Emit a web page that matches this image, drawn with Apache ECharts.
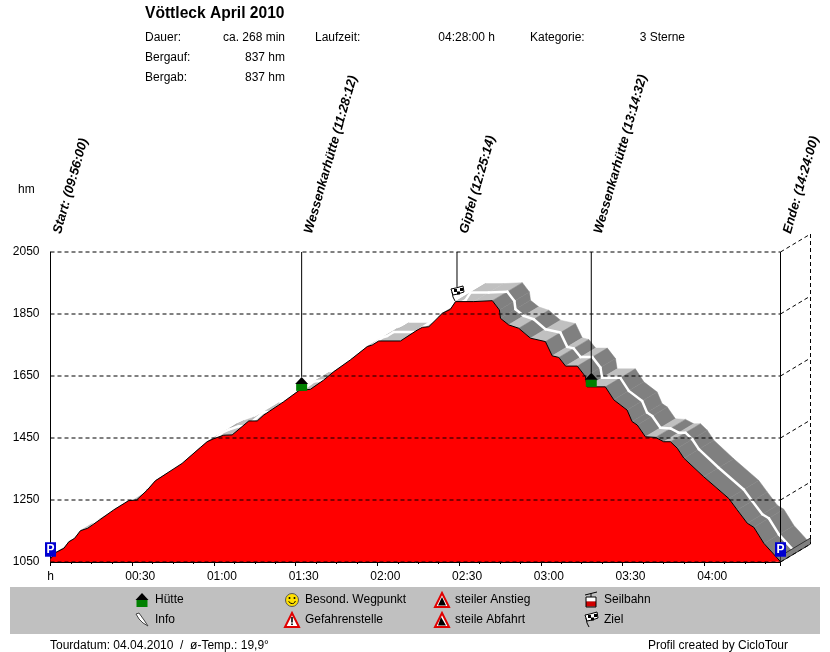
<!DOCTYPE html>
<html><head><meta charset="utf-8">
<style>html,body{margin:0;padding:0;background:#fff}#c{width:830px;height:652px}</style>
<script src="https://cdn.jsdelivr.net/npm/echarts@6/dist/echarts.min.js"></script>
</head><body><div id="c"></div>
<script>
// ---- data ----
const minutes=[0,1.8,4.9,6.7,8.8,11,13.7,23.2,28.7,31.6,35.5,38.5,48.3,55.1,57.5,60,63.6,66.7,72.8,75.9,78.3,85.6,91.2,95.4,100.3,104,110.1,116.3,118.1,120.5,128.5,134.6,136.5,138.9,143.8,146.8,148.7,155.4,162.2,164.8,165.2,168.2,171.9,176.2,181.7,184.2,186.6,189.1,193.4,196.4,197,203.7,206.8,211.7,213.5,215.4,218.4,222.1,225.1,227.6,230.1,232.5,239.8,249,252.1,255.8,258.2,261.9,268];
const heights=[1060,1080,1094,1115,1126,1151,1159,1218,1248,1250,1282,1312,1368,1420,1438,1448,1459,1460,1505,1505,1524,1567,1603,1607,1637,1664,1702,1745,1750,1763,1763,1798,1807,1809,1852,1865,1890,1890,1893,1863,1836,1815,1804,1772,1761,1715,1710,1682,1682,1648,1615,1615,1573,1540,1503,1492,1454,1452,1438,1438,1417,1385,1325,1255,1218,1175,1162,1110,1051];
const yTicks=[1050,1250,1450,1650,1850,2050];
const wayTimes=[0,92.2,149.23,198.53,268];
const wayHeights=[1067,1602,1892,1615,1067];
const wayLabels=['Start: (09:56:00)','Wessenkarhütte (11:28:12)','Gipfel (12:25:14)','Wessenkarhütte (13:14:32)','Ende: (14:24:00)'];
const wayIcons=['p','hut','flag','hut','p'];
const title='Vöttleck April 2010';
const infoLabels=['Dauer:','Bergauf:','Bergab:'];
const infoValues=['ca. 268 min','837 hm','837 hm'];
const legendLabels=[['Hütte','Info'],['Besond. Wegpunkt','Gefahrenstelle'],['steiler Anstieg','steile Abfahrt'],['Seilbahn','Ziel']];
const legendIcons=[['hut','info'],['smile','danger'],['up','down'],['car','flag']];

const FONT='12px "Liberation Sans",Arial,sans-serif';
const DX=30,DY=-18;

function icon(kind,x,y){ // x = centre, y = bottom of the icon
  const k=[];
  const line=(pts,w,c)=>k.push({type:'polyline',shape:{points:pts},style:{stroke:c||'#000',lineWidth:w||1,fill:'none'}});
  const poly=(pts,f,s,w)=>k.push({type:'polygon',shape:{points:pts},style:{fill:f,stroke:s||null,lineWidth:w||1}});
  const rect=(a,b,c,d,f)=>k.push({type:'rect',shape:{x:a,y:b,width:c,height:d},style:{fill:f}});
  if(kind==='p'){
    rect(-5.5,-14.5,11,14.5,'#0000d0');
    k.push({type:'text',style:{text:'P',x:0,y:-7,fill:'#fff',font:'bold 12px "Liberation Sans",Arial',textAlign:'center',textVerticalAlign:'middle'}});
  } else if(kind==='hut'){
    rect(-5.5,-7.5,11,7.5,'#008000');
    poly([[-6.5,-7],[0,-14],[6.5,-7]],'#000');
  } else if(kind==='flag'){
    line([[-2,0],[-4,-4],[-5,-9]],1);
    poly([[-6,-12],[-1,-13],[6,-15],[7,-9],[1,-7],[-4,-6]],'#fff','#000');
    rect(-3,-12,3,3,'#000');rect(3,-13,3,3,'#000');rect(0,-9.5,3,3,'#000');
  } else if(kind==='info'){
    poly([[-6,-13],[-3,-14],[2,-7],[6,-1],[1,-4],[-3,-8]],'#fff','#444');
  } else if(kind==='smile'){
    k.push({type:'circle',shape:{cx:0,cy:-7,r:6.5},style:{fill:'#ffe000',stroke:'#555',lineWidth:1}});
    k.push({type:'circle',shape:{cx:-2.5,cy:-9,r:1},style:{fill:'#000'}});
    k.push({type:'circle',shape:{cx:2.5,cy:-9,r:1},style:{fill:'#000'}});
    k.push({type:'arc',shape:{cx:0,cy:-7,r:3.5,startAngle:0.3,endAngle:2.8},style:{stroke:'#000',fill:'none',lineWidth:1}});
  } else if(kind==='danger'){
    poly([[0,-14],[7,0],[-7,0]],'#fff','#e00000',2);
    rect(-0.8,-10,1.6,5.5,'#000');rect(-0.8,-3.5,1.6,1.6,'#000');
  } else if(kind==='up'){
    poly([[0,-14],[7,0],[-7,0]],'#fff','#e00000',2);
    poly([[0,-10],[4,-1.5],[-4,-1.5]],'#000');
  } else if(kind==='down'){
    poly([[0,-14],[7,0],[-7,0]],'#fff','#e00000',2);
    poly([[-1,-10],[4,-1.5],[-4,-1.5]],'#000');
  } else if(kind==='car'){
    line([[-6,-12],[6,-15]],1);
    line([[0,-13.5],[0,-10]],1);
    rect(-5,-10,10,4,'#fff');rect(-5,-5.5,10,5,'#d00000');
    k.push({type:'rect',shape:{x:-5,y:-10,width:10,height:10},style:{fill:'none',stroke:'#000',lineWidth:1}});
  }
  return {type:'group',x:x,y:y,children:k};
}

const graphics=[];
const txt=(s,x,y,align,font)=>graphics.push({type:'text',x:x,y:y,style:{text:s,font:font||FONT,fill:'#000',textAlign:align||'left',textVerticalAlign:'middle'}});
graphics.push({type:'rect',z:-1,shape:{x:10,y:587,width:810,height:47},style:{fill:'#c0c0c0'}});
txt(title,145,14,'left','bold 15.6px "Liberation Sans",Arial');
infoLabels.forEach((s,i)=>{txt(s,145,38+20*i);txt(infoValues[i],285,38+20*i,'right');});
txt('Laufzeit:',315,38);txt('04:28:00 h',495,38,'right');
txt('Kategorie:',530,38);txt('3 Sterne',685,38,'right');
txt('hm',18,190);
txt('Tourdatum: 04.04.2010  /  ø-Temp.: 19,9°',50,646);
txt('Profil created by CicloTour',788,646,'right');
const legX=[142,292,442,591];
legendLabels.forEach((col,c)=>col.forEach((s,r)=>{
  txt(s,legX[c]+13,600+20*r);
  graphics.push(icon(legendIcons[c][r],legX[c],607+20*r));
}));

const segData=minutes.slice(0,-1).map((m,i)=>i);
function shade(i){
  const s=(heights[i+1]-heights[i])/(minutes[i+1]-minutes[i]);
  if(s>3.1) return '#a0a0a0';
  return s>=-3.1?'#c0c0c0':'#808080';
}
const chart=echarts.init(document.getElementById('c'),null,{renderer:'canvas'});
chart.setOption({
  animation:false,
  textStyle:{fontFamily:'"Liberation Sans",Arial,sans-serif'},
  graphic:graphics,
  grid:{left:50.5,top:252,width:730,height:310,containLabel:false},
  xAxis:{type:'value',min:0,max:268,interval:30,
    axisLine:{lineStyle:{color:'#000'}},
    axisTick:{length:4,lineStyle:{color:'#000'}},
    minorTick:{show:true,splitNumber:4,length:2,lineStyle:{color:'#000'}},
    splitLine:{show:false},
    axisLabel:{color:'#000',fontSize:12,margin:9,showMaxLabel:false,
      rich:{t:{fontSize:12,color:'#000',padding:[0,0,0,16]},h:{fontSize:12,color:'#000'}},
      formatter:v=>{if(v===0)return '{h|h}';if(v%30)return '';const h=Math.floor(v/60),m=v%60;return '{t|'+String(h).padStart(2,'0')+':'+String(m).padStart(2,'0')+'}';}}},
  yAxis:{type:'value',min:1050,max:2050,
    axisLine:{show:true,lineStyle:{color:'#000'}},
    axisTick:{show:false},splitLine:{show:false},
    axisLabel:{color:'#000',fontSize:12,margin:11,customValues:yTicks,formatter:v=>String(v)}},
  series:[
    {type:'custom',z:2,silent:true,data:segData,renderItem:(p,api)=>{
      const i=api.value(0);
      const a=api.coord([minutes[i],heights[i]]),b=api.coord([minutes[i+1],heights[i+1]]);
      const fill=shade(i);
      return {type:'polygon',shape:{points:[a,b,[b[0]+DX,b[1]+DY],[a[0]+DX,a[1]+DY]]},style:{fill:fill,stroke:fill,lineWidth:0.5}};
    }},
    {type:'custom',z:3,silent:true,data:segData,renderItem:(p,api)=>{
      const i=api.value(0);
      const a=api.coord([minutes[i],heights[i]]),b=api.coord([minutes[i+1],heights[i+1]]);
      return {type:'line',shape:{x1:a[0]+DX/2,y1:a[1]+DY/2,x2:b[0]+DX/2,y2:b[1]+DY/2},style:{stroke:'#fff',lineWidth:2.5,lineCap:'round'}};
    }},
    {type:'custom',z:3,silent:true,data:[0],renderItem:(p,api)=>{
      const a=api.coord([268,1050]);
      return {type:'group',children:[{type:'polygon',shape:{points:[a,[a[0]+DX,a[1]+DY],[a[0]+DX,a[1]+DY-6],[a[0],a[1]-6]]},style:{fill:'#808080',stroke:'#333',lineWidth:1}}]};
    }},
    {type:'line',z:4,silent:true,data:minutes.map((m,i)=>[m,heights[i]]),symbol:'none',
      lineStyle:{color:'#000',width:1},areaStyle:{color:'#ff0000',opacity:1,origin:'start'}},
    {type:'custom',z:5,silent:true,data:yTicks,renderItem:(p,api)=>{
      const v=yTicks[p.dataIndex];
      const l=api.coord([0,v]),r=api.coord([268,v]);
      const st={stroke:'#000',lineWidth:1,lineDash:[4,3],fill:'none'};
      const kids=[{type:'line',shape:{x1:l[0],y1:l[1],x2:r[0],y2:r[1]},style:st},
                  {type:'line',shape:{x1:r[0],y1:r[1],x2:r[0]+DX,y2:r[1]+DY},style:st}];
      if(p.dataIndex===0){
        const t=api.coord([268,2050]);
        kids.push({type:'line',shape:{x1:t[0]+DX,y1:t[1]+DY,x2:r[0]+DX,y2:r[1]+DY},style:st});
      }
      return {type:'group',children:kids};
    }},
    {type:'custom',z:6,silent:true,data:wayTimes.map((t,i)=>[t,wayHeights[i]]),renderItem:(p,api)=>{
      const i=p.dataIndex;
      const c=api.coord([api.value(0),api.value(1)]);
      const t=api.coord([api.value(0),2050]);
      return {type:'group',children:[
        {type:'line',shape:{x1:t[0],y1:t[1],x2:t[0],y2:c[1]-14},style:{stroke:'#000',lineWidth:1}},
        icon(wayIcons[i],c[0],c[1]),
        {type:'text',x:t[0]+13,y:t[1]-17,rotation:74*Math.PI/180,
         style:{text:wayLabels[i],font:'italic bold 13px "Liberation Sans",Arial',fill:'#000',textAlign:'left',textVerticalAlign:'bottom'}}
      ]};
    }}
  ]
});
</script></body></html>
